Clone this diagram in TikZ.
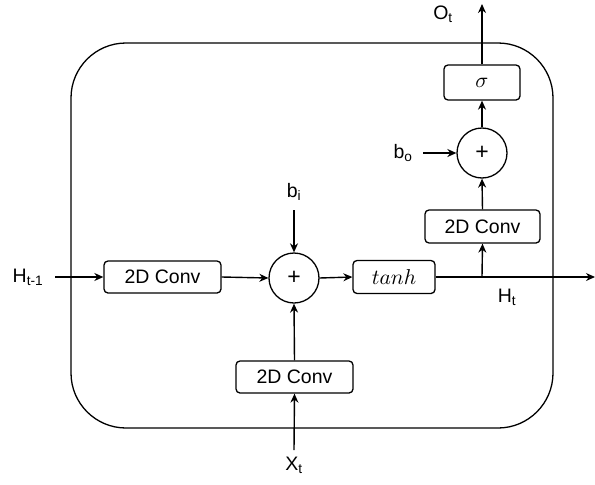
\documentclass[tikz,border=0pt]{standalone}
\usepackage{fontspec}
\setmainfont{Liberation Sans}
\usetikzlibrary{arrows.meta}
\newcommand{\bigmath}[1]{{\fontsize{10}{12}\selectfont\scalebox{2.15}{$#1$}}}
\begin{document}
\begin{tikzpicture}[x=1pt,y=-1pt,
  every node/.style={font=\fontsize{19.5}{22}\selectfont},
  box/.style={draw, line width=1.3pt, rounded corners=4pt, inner sep=0pt},
  sum/.style={draw, circle, line width=1.3pt, minimum size=50pt, inner sep=0pt, font=\fontsize{23}{26}\selectfont},
  lbl/.style={inner sep=0pt},
  arr/.style={line width=1.4pt, -{Stealth[length=9pt,width=8pt]}}]
\useasboundingbox (0,0) rectangle (595,485);
\node[draw, line width=1.3pt, rounded corners=55pt, minimum width=482pt, minimum height=385pt, inner sep=0pt] (frame) at (312,235.5) {};
\node[box, minimum width=117pt, minimum height=32pt] (conv1) at (162.5,277) {2D Conv};
\node[sum] (plus1) at (294,278) {+};
\node[box, minimum width=82pt, minimum height=33pt] (tanh) at (394,277) {\bigmath{tanh}};
\node[box, minimum width=115pt, minimum height=33pt] (conv2) at (482.5,226.5) {2D Conv};
\node[sum] (plus2) at (482,153) {+};
\node[box, minimum width=76pt, minimum height=35pt] (sig) at (482,82.5) {\bigmath{\sigma}};
\node[box, minimum width=117pt, minimum height=32pt] (conv3) at (294.5,377) {2D Conv};
\node[lbl] (Ht1) at (28,277) {H\textsubscript{t-1}};
\node[lbl] (bi) at (294,192) {b\textsubscript{i}};
\node[lbl] (bo) at (403,153) {b\textsubscript{o}};
\node[lbl] (Ot) at (443,14) {O\textsubscript{t}};
\node[lbl] (Ht) at (507,297) {H\textsubscript{t}};
\node[lbl] (Xt) at (294,465) {X\textsubscript{t}};
\coordinate (s1) at (55,277);
\coordinate (biend) at (294,210);
\coordinate (boend) at (423,153);
\coordinate (hend) at (595,277);
\coordinate (br) at (482,277);
\coordinate (otop) at (482,4);
\coordinate (xb) at (294,450);
\draw[arr] (s1) -- (conv1.west);
\draw[arr] (conv1.east) -- (plus1.west);
\draw[arr] (biend) -- (plus1.north);
\draw[arr] (plus1.east) -- (tanh.west);
\draw[arr] (tanh.east) -- (hend);
\draw[arr] (br) -- (conv2.south);
\draw[arr] (conv2.north) -- (plus2.south);
\draw[arr] (boend) -- (plus2.west);
\draw[arr] (plus2.north) -- (sig.south);
\draw[arr] (sig.north) -- (otop);
\draw[arr] (conv3.north) -- (plus1.south);
\draw[arr] (xb) -- (conv3.south);
\end{tikzpicture}
\end{document}
